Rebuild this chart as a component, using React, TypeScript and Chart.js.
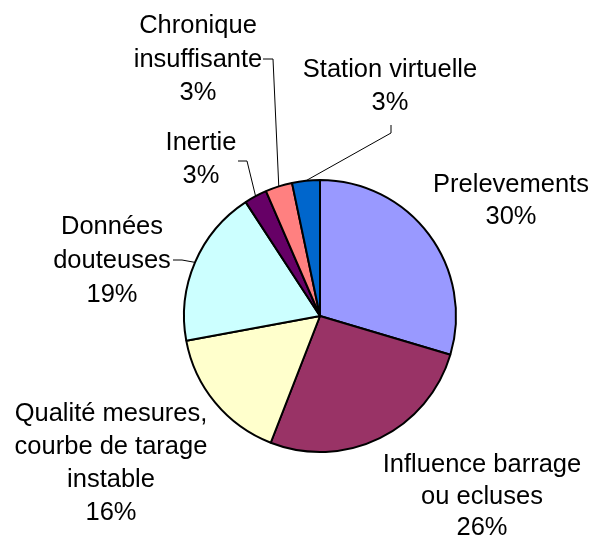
import React, { useEffect, useRef } from "react";
import { Chart, registerables } from "chart.js";

Chart.register(...registerables);

const categories: string[][] = [
  ["Prelevements"],
  ["Influence barrage", "ou ecluses"],
  ["Qualité mesures,", "courbe de tarage", "instable"],
  ["Données", "douteuses"],
  ["Inertie"],
  ["Chronique", "insuffisante"],
  ["Station virtuelle"],
];
const values: number[] = [29.6, 26.3, 16.2, 18.7, 2.7, 3.2, 3.3];
const colors: string[] = ["#9999FF", "#993366", "#FFFFCC", "#CCFFFF", "#660066", "#FF8080", "#0066CC"];

// label layout: centre x, first baseline y, optional leader elbow (start point, elbow point)
const labelLayout: { x: number; y: number; lh: number; leader?: number[] }[] = [
  { x: 511, y: 192, lh: 31.6 },
  { x: 482, y: 472, lh: 31.6 },
  { x: 111, y: 421, lh: 33 },
  { x: 112, y: 234, lh: 34, leader: [173, 260, 182, 260] },
  { x: 201, y: 150, lh: 33.3, leader: [238, 161, 247, 161] },
  { x: 198, y: 33, lh: 33.5, leader: [263, 59, 273, 59] },
  { x: 390, y: 77, lh: 32.7, leader: [391, 125, 391, 133] },
];

const FONT = '25.5px "Liberation Sans", Arial, sans-serif';

const labelPlugin = {
  id: "outsideLabels",
  afterDraw(chart: any) {
    const ctx = chart.ctx as CanvasRenderingContext2D;
    const meta = chart.getDatasetMeta(0);
    const data = chart.data.datasets[0].data as number[];
    const total = data.reduce((a, b) => a + b, 0);
    ctx.save();
    meta.data.forEach((arc: any, i: number) => {
      const L = labelLayout[i];
      const lines = [...categories[i], Math.round((data[i] / total) * 100) + "%"];
      ctx.fillStyle = "#000";
      ctx.font = FONT;
      ctx.textAlign = "center";
      ctx.textBaseline = "alphabetic";
      lines.forEach((t, k) => ctx.fillText(t, L.x, L.y + k * L.lh));
      if (L.leader) {
        const { x, y, startAngle, endAngle, outerRadius } = arc.getProps(
          ["x", "y", "startAngle", "endAngle", "outerRadius"],
          true
        );
        const mid = (startAngle + endAngle) / 2;
        const ex = x + Math.cos(mid) * outerRadius;
        const ey = y + Math.sin(mid) * outerRadius;
        ctx.strokeStyle = "#000";
        ctx.lineWidth = 1;
        ctx.beginPath();
        ctx.moveTo(L.leader[0], L.leader[1]);
        ctx.lineTo(L.leader[2], L.leader[3]);
        ctx.lineTo(ex, ey);
        ctx.stroke();
      }
    });
    ctx.restore();
  },
};

export default function App() {
  const ref = useRef<HTMLCanvasElement | null>(null);
  useEffect(() => {
    if (!ref.current) return;
    const chart = new Chart(ref.current, {
      type: "pie",
      data: {
        labels: categories.map((c) => c.join(" ")),
        datasets: [
          {
            data: values,
            backgroundColor: colors,
            borderColor: "#000",
            borderWidth: 2,
            radius: 136,
          } as any,
        ],
      },
      options: {
        animation: false,
        responsive: false,
        maintainAspectRatio: false,
        layout: { padding: { left: 183, right: 132, top: 179, bottom: 87 } },
        plugins: { legend: { display: false }, tooltip: { enabled: false } },
      },
      plugins: [labelPlugin],
    });
    return () => chart.destroy();
  }, []);
  return (
    <div style={{ position: "fixed", left: 0, top: 0, width: 589, height: 540, background: "#fff" }}>
      <canvas ref={ref} width={589} height={540} style={{ width: 589, height: 540 }} />
    </div>
  );
}
